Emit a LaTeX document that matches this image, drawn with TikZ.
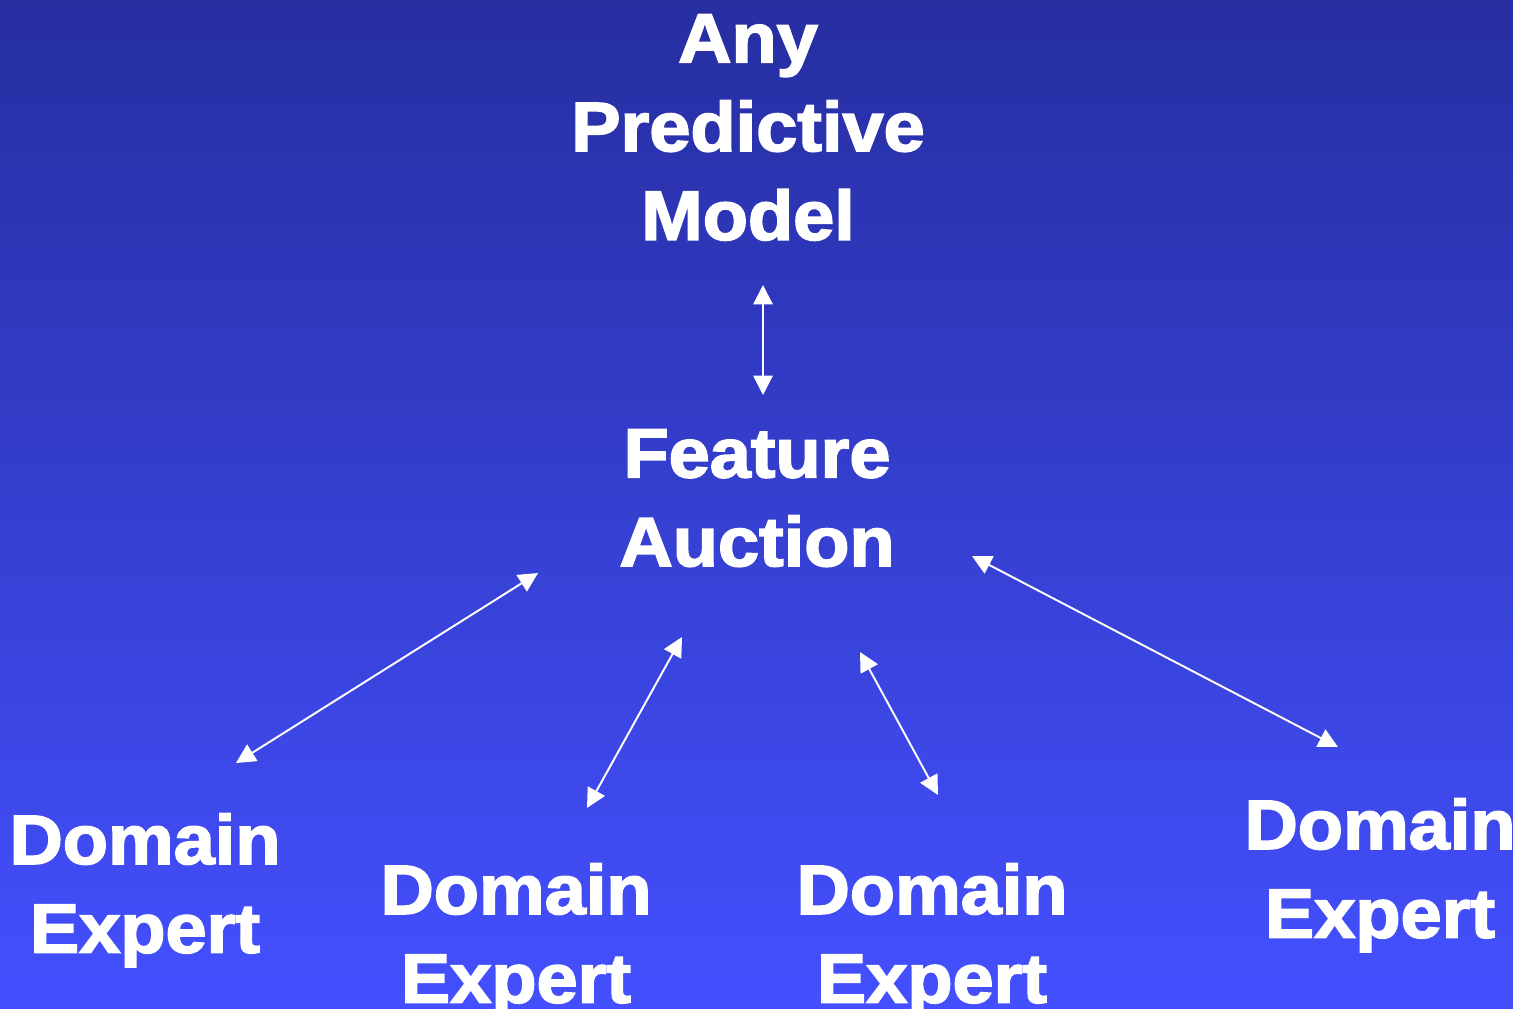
\documentclass[tikz,border=0pt]{standalone}
\usepackage{fontspec}
\setmainfont{Liberation Sans}[BoldFeatures={FakeBold=2.4,FakeStretch=1.06}]
\usetikzlibrary{
    positioning,
    arrows.meta
}
\definecolor{bgtop}{RGB}{38,46,160}
\definecolor{bgbottom}{RGB}{68,80,255}

\begin{document}
\begin{tikzpicture}[
    x=0.02cm,
    y=-0.02cm,
    word/.style={
        text=white,
        align=center,
        anchor=north,
        inner sep=0pt,
        font=\fontsize{39.7}{50.5}\selectfont\bfseries
    },
    link/.style={
        {Triangle[length=11pt,width=11pt]}-{Triangle[length=11pt,width=11pt]},
        white,
        line width=1.1pt
    }
]

% Set bounding box to the slide size
\useasboundingbox (0,0) rectangle (1513,1008);

% ================= BACKGROUND =================
\shade[top color=bgtop, bottom color=bgbottom] (0,0) rectangle (1513,1008);

% ================= NODES =================
\node[word] (model) at (748,14) {Any\\Predictive\\Model};
\node[word] (auction) at (757,429) {Feature\\Auction};

\node[word] (expertA) at (145,813) {Domain\\Expert};
\node[word] (expertB) at (516,863) {Domain\\Expert};
\node[word] (expertC) at (932,863) {Domain\\Expert};
\node[word] (expertD) at (1380,798) {Domain\\Expert};

% ================= ARROWS =================
\draw[link] ([shift={(15,271)}]model.north) -- ([shift={(6,-34)}]auction.north);
\draw[link] ([shift={(-219,144)}]auction.north) -- ([shift={(91,-50)}]expertA.north);
\draw[link] ([shift={(-75,208)}]auction.north) -- ([shift={(71,-55)}]expertB.north);
\draw[link] ([shift={(103,223)}]auction.north) -- ([shift={(6,-68)}]expertC.north);
\draw[link] ([shift={(215,127)}]auction.north) -- ([shift={(-42,-51)}]expertD.north);

\end{tikzpicture}
\end{document}
